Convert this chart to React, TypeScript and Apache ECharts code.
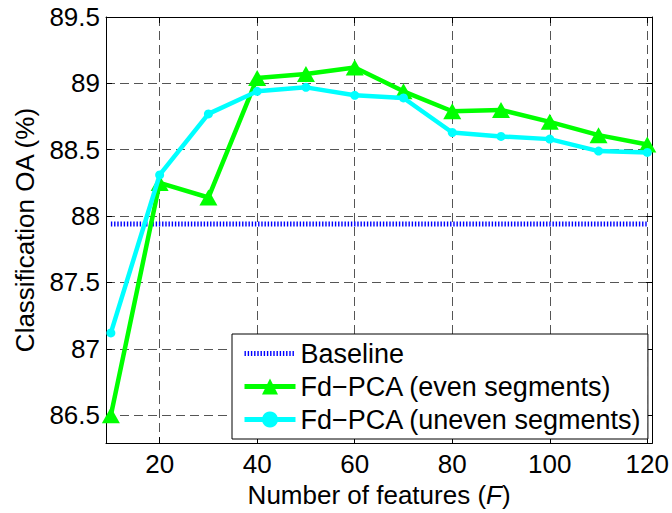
import React, { useEffect, useRef } from "react";
import * as echarts from "echarts";

const featureCounts = [10, 20, 30, 40, 50, 60, 70, 80, 90, 100, 110, 120];
const evenSegments = [86.5, 88.25, 88.14, 89.04, 89.07, 89.12, 88.94, 88.79, 88.8, 88.71, 88.61, 88.54];
const unevenSegments = [87.12, 88.31, 88.77, 88.94, 88.97, 88.91, 88.89, 88.63, 88.6, 88.58, 88.49, 88.48];
const baselineX = [10, 120];
const baselineY = [87.94, 87.94];

const seriesNames = ["Baseline", "Fd\u2212PCA (even segments)", "Fd\u2212PCA (uneven segments)"];

const FONT = "Liberation Sans, Arial, Helvetica, sans-serif";

export default function App() {
  const ref = useRef<HTMLDivElement>(null);
  useEffect(() => {
    if (!ref.current) return;
    const chart = echarts.init(ref.current, null, { renderer: "svg" });
    const gridLine = { show: true, lineStyle: { color: "#555", type: [9, 5], width: 1 } };
    const axisLineStyle = { show: true, onZero: false, lineStyle: { color: "#000", width: 1 } };
    const tickStyle = { show: true, inside: true, length: 6, lineStyle: { color: "#000", width: 1 } };
    const option: any = {
      animation: false,
      backgroundColor: "#fff",
      textStyle: { fontFamily: FONT },
      grid: { left: 106, right: 19, top: 17, bottom: 66, containLabel: false },
      xAxis: [
        {
          type: "value",
          min: 9,
          max: 121,
          splitNumber: 5,
          position: "bottom",
          axisLine: axisLineStyle,
          axisTick: tickStyle,
          axisLabel: {
            fontSize: 26,
            color: "#000",
            fontFamily: FONT,
            margin: 8,
            formatter: (v: number) => (Math.abs(v % 20) < 1e-9 ? String(v) : ""),
          },
          splitLine: gridLine,
          name: "Number of features ({i|F})",
          nameLocation: "middle",
          nameGap: 33,
          nameTextStyle: {
            fontSize: 26,
            color: "#000",
            fontFamily: FONT,
            rich: { i: { fontStyle: "italic", fontSize: 26, color: "#000", fontFamily: FONT } },
          },
        },
        {
          type: "value",
          min: 9,
          max: 121,
          splitNumber: 5,
          position: "top",
          axisLine: axisLineStyle,
          axisTick: tickStyle,
          axisLabel: { show: false },
          splitLine: { show: false },
        },
      ],
      yAxis: [
        {
          type: "value",
          min: 86.29,
          max: 89.5,
          splitNumber: 5,
          position: "left",
          axisLine: axisLineStyle,
          axisTick: tickStyle,
          axisLabel: {
            fontSize: 26,
            color: "#000",
            fontFamily: FONT,
            margin: 6,
            formatter: (v: number) =>
              Math.abs(v * 2 - Math.round(v * 2)) < 1e-6 ? String(Math.round(v * 2) / 2) : "",
          },
          splitLine: gridLine,
          name: "Classification OA (%)",
          nameLocation: "middle",
          nameRotate: 90,
          nameGap: 68,
          nameTextStyle: { fontSize: 26, color: "#000", fontFamily: FONT },
        },
        {
          type: "value",
          min: 86.29,
          max: 89.5,
          splitNumber: 5,
          position: "right",
          axisLine: axisLineStyle,
          axisTick: tickStyle,
          axisLabel: { show: false },
          splitLine: { show: false },
        },
      ],
      legend: {
        orient: "vertical",
        left: 232,
        top: 334,
        padding: [6, 6, 6, 10],
        itemWidth: 51,
        itemHeight: 20,
        itemGap: 6,
        backgroundColor: "#fff",
        borderColor: "#000",
        borderWidth: 1,
        borderRadius: 0,
        selectedMode: false,
        lineStyle: { width: 5 },
        textStyle: { fontSize: 27, color: "#000", fontFamily: FONT, lineHeight: 27 },
        data: [
          { name: seriesNames[0], itemStyle: { opacity: 0 } },
          { name: seriesNames[1] },
          { name: seriesNames[2] },
        ],
      },
      series: [
        {
          name: seriesNames[0],
          type: "line",
          xAxisIndex: 0,
          yAxisIndex: 0,
          data: baselineX.map((x, i) => [x, baselineY[i]]),
          symbol: "none",
          lineStyle: { color: "#0000ff", width: 5, type: [1.4, 1.8], cap: "butt" },
          itemStyle: { color: "#0000ff" },
          z: 2,
        },
        {
          name: seriesNames[1],
          type: "line",
          xAxisIndex: 0,
          yAxisIndex: 0,
          data: featureCounts.map((x, i) => [x, evenSegments[i]]),
          symbol: "triangle",
          symbolSize: [18, 16],
          lineStyle: { color: "#00ff00", width: 4.5 },
          itemStyle: { color: "#00ff00" },
          clip: false,
          z: 3,
        },
        {
          name: seriesNames[2],
          type: "line",
          xAxisIndex: 0,
          yAxisIndex: 0,
          data: featureCounts.map((x, i) => [x, unevenSegments[i]]),
          symbol: "circle",
          symbolSize: 9,
          lineStyle: { color: "#00ffff", width: 4.5 },
          itemStyle: { color: "#00ffff" },
          clip: false,
          z: 4,
        },
      ],
    };
    chart.setOption(option);
    return () => chart.dispose();
  }, []);
  return <div ref={ref} style={{ width: 672, height: 513, position: "absolute", left: 0, top: 0 }} />;
}
